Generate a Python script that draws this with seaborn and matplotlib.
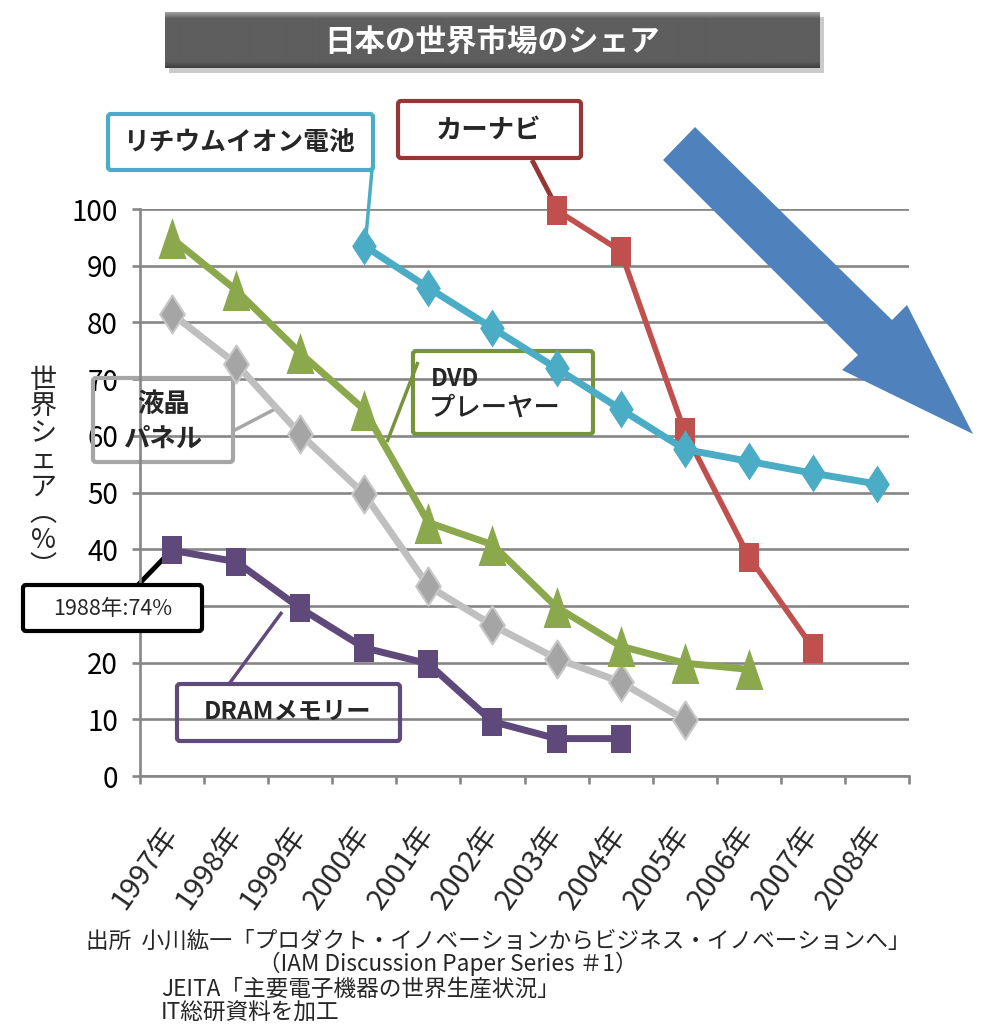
import numpy as np
import pandas as pd
import matplotlib
matplotlib.use("Agg")
import matplotlib.pyplot as plt
import seaborn as sns
from matplotlib.path import Path
from matplotlib.patches import Polygon, Rectangle, FancyBboxPatch
from matplotlib.lines import Line2D
from matplotlib import font_manager as fm

# ---------------- data ----------------
years = ["1997年", "1998年", "1999年", "2000年", "2001年", "2002年",
         "2003年", "2004年", "2005年", "2006年", "2007年", "2008年"]
nan = np.nan
lithium = [nan, nan, nan, 93.5, 86.1, 79.0, 71.9, 64.7, 57.6, 55.5, 53.4, 51.5]
carnavi = [nan, nan, nan, nan, nan, nan, 99.8, 92.6, 60.7, 38.7, 22.6, nan]
dvd = [94.8, 85.7, 74.6, 64.6, 44.7, 40.8, 29.8, 22.9, 19.9, 18.8, nan, nan]
lcd = [81.5, 72.7, 60.3, 49.7, 33.5, 26.6, 20.7, 16.6, 9.9, nan, nan, nan]
dram = [39.8, 37.8, 29.6, 22.6, 19.8, 9.6, 6.6, 6.6, nan, nan, nan, nan]
yticks = list(range(0, 101, 10))

series_names = ["DRAMメモリー", "液晶パネル", "DVDプレーヤー", "カーナビ", "リチウムイオン電池"]
series_vals = [dram, lcd, dvd, carnavi, lithium]

rows = []
for name, vals in zip(series_names, series_vals):
    for i, v in enumerate(vals):
        if not np.isnan(v):
            rows.append({"series": name, "idx": i, "share": v})
df = pd.DataFrame(rows)

# ---------------- style ----------------
sns.set_style("white")
plt.rcParams["font.family"] = ["Noto Sans CJK JP", "DejaVu Sans"]
names = {f.name for f in fm.fontManager.ttflist}
narrow = "Liberation Sans Narrow" if "Liberation Sans Narrow" in names else "Noto Sans CJK JP"
tick_family = [narrow, "Noto Sans CJK JP", "DejaVu Sans"]

W, H = 981, 1029
def P(x, y):
    return (x / W, 1 - y / H)
PX = 72 / 100.0  # points per pixel

fig = plt.figure(figsize=(W / 100, H / 100), dpi=100)
ax = fig.add_axes([140 / W, 1 - 776 / H, (909 - 140) / W, (776 - 209) / H])

# markers
def mk(verts):
    verts = list(verts) + [verts[0]]
    codes = [Path.MOVETO] + [Path.LINETO] * (len(verts) - 2) + [Path.CLOSEPOLY]
    return Path(verts, codes)

diamond = mk([(0, 1), (0.65, 0), (0, -1), (-0.65, 0)])
square = mk([(-0.68, -1), (0.68, -1), (0.68, 1), (-0.68, 1)])
triangle = mk([(0, 1), (0.68, -1), (-0.68, -1)])

styles = {
    "DRAMメモリー": dict(color="#5F497A", marker=square, ms=28 * PX, mfc="#5F497A", mec="#5F497A", mew=0, lw=5),
    "液晶パネル": dict(color="#BFBFBF", marker=diamond, ms=38 * PX, mfc="#A5A5A5", mec="#C8C8C8", mew=1.5, lw=5),
    "DVDプレーヤー": dict(color="#8BA84C", marker=triangle, ms=41 * PX, mfc="#8BA84C", mec="#8BA84C", mew=0, lw=5),
    "カーナビ": dict(color="#C0504D", marker=square, ms=29 * PX, mfc="#C0504D", mec="#C0504D", mew=0, lw=4),
    "リチウムイオン電池": dict(color="#4BACC6", marker=diamond, ms=38 * PX, mfc="#4BACC6", mec="#4BACC6", mew=0, lw=5),
}
for k, name in enumerate(series_names):
    st = styles[name]
    sub = df[df["series"] == name]
    sns.lineplot(data=sub, x="idx", y="share", ax=ax, sort=False, estimator=None,
                 errorbar=None, color=st["color"], lw=st["lw"], marker=st["marker"],
                 markersize=st["ms"], markerfacecolor=st["mfc"], markeredgecolor=st["mec"],
                 markeredgewidth=st["mew"], clip_on=False, zorder=2 + k * 0.1)

grid_c = "#868686"
ax.set_xlim(-0.5, 11.5)
ax.set_ylim(0, 100)
ax.set_yticks(yticks)
ax.set_yticklabels([str(v) for v in yticks])
ax.yaxis.grid(True, color=grid_c, lw=1.9)
ax.xaxis.grid(False)
ax.set_axisbelow(True)
ax.set_xlabel("")
ax.set_ylabel("")
for s in ["top", "right"]:
    ax.spines[s].set_visible(False)
for s in ["left", "bottom"]:
    ax.spines[s].set_color(grid_c)
    ax.spines[s].set_linewidth(1.9)
ax.tick_params(axis="y", left=True, length=8 * PX, width=1.9, color=grid_c, pad=10,
               labelsize=20, labelcolor="black")
ax.set_xticks(range(len(years)))
ax.set_xticklabels(years, rotation=55, ha="right", va="center", rotation_mode="anchor")
ax.set_xticks(np.arange(-0.5, 12, 1), minor=True)
ax.tick_params(axis="x", which="major", bottom=True, length=0, pad=38, labelsize=21)
ax.tick_params(axis="x", which="minor", bottom=True, length=8 * PX, width=1.9, color=grid_c)
for lbl in ax.get_xticklabels() + ax.get_yticklabels():
    lbl.set_fontfamily(tick_family)
# the "30" label sits under the opaque 1988 call-out box in the reference
for lbl, v in zip(ax.get_yticklabels(), yticks):
    if v == 30:
        lbl.set_visible(False)

# ---------------- annotation boxes ----------------
def box(x0, y0, x1, y1, ec, lw=3, fc="none", z=1.8):
    r = FancyBboxPatch(P(x0, y1), (x1 - x0) / W, (y1 - y0) / H,
                       boxstyle="round,pad=0,rounding_size=0.003",
                       transform=fig.transFigure, ec=ec, fc=fc, lw=lw, clip_on=False, zorder=z)
    ax.add_artist(r)

def conn(p0, p1, c, lw=2.5, z=1.9):
    l = Line2D([P(*p0)[0], P(*p1)[0]], [P(*p0)[1], P(*p1)[1]], transform=fig.transFigure,
               color=c, lw=lw, clip_on=False, zorder=z, solid_capstyle="butt")
    ax.add_artist(l)

# lithium
box(108, 114, 373, 170, "#4BACC6")
conn((372, 170), (366, 236), "#4BACC6")
fig.text(*P(239, 143), "リチウムイオン電池", ha="center", va="center", fontsize=18.5, fontweight="bold")
# car navi
box(398, 101, 581, 158, "#953735")
conn((532, 160), (556, 206), "#953735", lw=3.5)
fig.text(*P(489, 130), "カーナビ", ha="center", va="center", fontsize=19, fontweight="bold")
# DVD
box(413, 351, 593, 434, "#77933C")
conn((418, 362), (387, 442), "#77933C")
fig.text(*P(431, 379), "DVD", ha="left", va="center", fontsize=17, fontweight="bold")
fig.text(*P(429, 408), "プレーヤー", ha="left", va="center", fontsize=19, fontweight="medium")
# LCD
box(93, 378, 233, 462, "#A6A6A6")
conn((233, 431), (277, 408), "#A6A6A6")
fig.text(*P(164, 404), "液晶", ha="center", va="center", fontsize=19, fontweight="bold")
fig.text(*P(163, 439), "パネル", ha="center", va="center", fontsize=19, fontweight="bold")
# 1988
box(23, 585, 202, 631, "black", fc="white", z=3)
conn((138, 585), (165, 557), "black", lw=3.5)
fig.text(*P(113, 609), "1988年:74%", ha="center", va="center", fontsize=15.5)
# DRAM
box(177, 684, 400, 741, "#604A7B")
conn((229, 684), (282, 612), "#604A7B")
fig.text(*P(288, 712), "DRAMメモリー", ha="center", va="center", fontsize=17.5, fontweight="bold")

# ---------------- big arrow ----------------
arrow_pts = [P(663, 160), P(695, 127), P(892, 320), P(907, 305), P(973, 434),
             P(842, 370), P(858, 355)]
fig.add_artist(Polygon(arrow_pts, closed=True, transform=fig.transFigure,
                       fc="#4F81BD", ec="none", zorder=5))

# ---------------- title ----------------
fig.add_artist(Rectangle(P(169, 73), (820 - 165) / W, (68 - 12) / H, transform=fig.transFigure,
                         fc="#b5b5b5", ec="none", alpha=0.7, zorder=-1))
tax = fig.add_axes([165 / W, 1 - 68 / H, (820 - 165) / W, (68 - 12) / H])
grad = np.concatenate([np.linspace(0.62, 0.42, 6), np.full(44, 0.37), np.linspace(0.35, 0.25, 6)])
tax.imshow(grad[:, None] * np.ones((1, 10)), cmap="gray", vmin=0, vmax=1, aspect="auto",
           interpolation="bilinear")
tax.set_axis_off()
fig.text(*P(492, 42), "日本の世界市場のシェア", ha="center", va="center", fontsize=22,
         fontweight="bold", color="white", zorder=6)

# ---------------- y label ----------------
fig.text(*P(43, 474), "世\n界\nシ\nェ\nア\n︵\n%\n︶", ha="center", va="center",
         fontsize=19.5, linespacing=0.98, multialignment="center")

# ---------------- source ----------------
fig.text(*P(86, 941), "出所  小川紘一「プロダクト・イノベーションからビジネス・イノベーションへ」",
         ha="left", va="center", fontsize=16.3)
fig.text(*P(258, 964), "（IAM Discussion Paper Series ＃1）", ha="left", va="center", fontsize=16.3)
fig.text(*P(161, 989), "JEITA「主要電子機器の世界生産状況」", ha="left", va="center", fontsize=16.3)
fig.text(*P(161, 1013), "IT総研資料を加工", ha="left", va="center", fontsize=16.3)

fig.savefig("out.png", dpi=100)
